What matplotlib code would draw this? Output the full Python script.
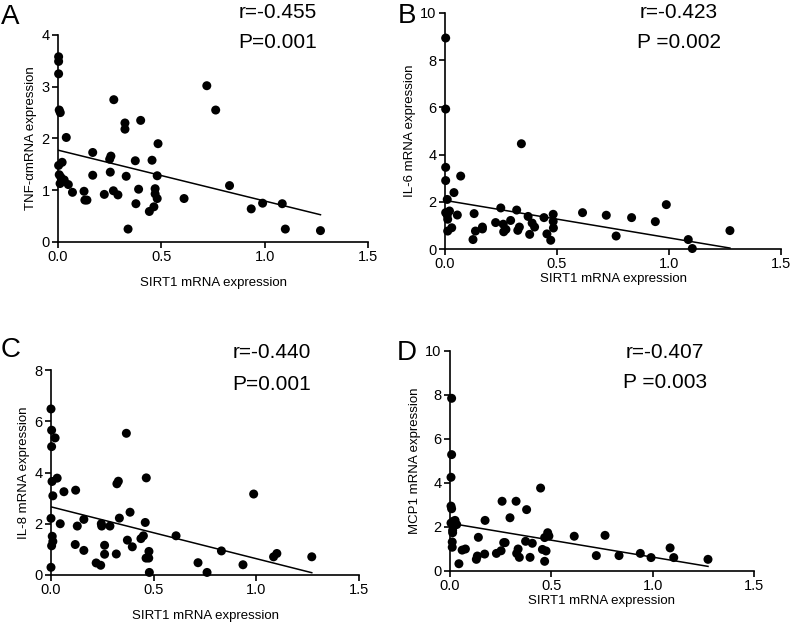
import numpy as np
import matplotlib
matplotlib.use("Agg")
import matplotlib.pyplot as plt

plt.rcParams['font.family'] = ['Liberation Sans', 'DejaVu Sans']

# panel A: TNF-a vs SIRT1
sirt1_a = [0.003, 0.003, 0.003, 0.006, 0.011, 0.04, 0.003, 0.02, 0.006, 0.014, 0.01,
           0.03, 0.05, 0.07, 0.126, 0.13, 0.14, 0.168, 0.168, 0.224, 0.25, 0.256,
           0.253, 0.27, 0.268, 0.29, 0.324, 0.324, 0.33, 0.339, 0.374, 0.377, 0.39,
           0.40, 0.442, 0.455, 0.464, 0.47, 0.47, 0.48, 0.48, 0.484, 0.61, 0.72,
           0.763, 0.83, 0.935, 0.99, 1.085, 1.10, 1.27]
tnf_a = [3.58, 3.49, 3.25, 2.55, 2.50, 2.02, 1.48, 1.54, 1.30, 1.25, 1.13,
         1.20, 1.11, 0.96, 0.98, 0.81, 0.81, 1.73, 1.29, 0.92, 1.60, 1.66,
         1.35, 2.75, 0.99, 0.91, 2.30, 2.18, 1.27, 0.25, 1.57, 0.74, 1.02,
         2.35, 0.59, 1.58, 0.68, 1.03, 0.93, 0.84, 1.28, 1.90, 0.84, 3.02,
         2.55, 1.09, 0.64, 0.75, 0.74, 0.25, 0.22]

# panel B: IL-6 vs SIRT1
sirt1_b = [0.003, 0.003, 0.003, 0.003, 0.01, 0.003, 0.01, 0.02, 0.012, 0.012, 0.03,
           0.04, 0.055, 0.07, 0.13, 0.125, 0.136, 0.167, 0.167, 0.226, 0.249, 0.26,
           0.262, 0.272, 0.293, 0.32, 0.325, 0.332, 0.341, 0.371, 0.378, 0.389,
           0.40, 0.442, 0.455, 0.472, 0.483, 0.483, 0.484, 0.614, 0.72, 0.764,
           0.833, 0.939, 0.988, 1.086, 1.104, 1.272]
il6_b = [8.94, 5.93, 3.46, 2.90, 2.10, 1.54, 1.43, 1.61, 1.26, 0.76, 0.90,
         2.39, 1.44, 3.09, 1.50, 0.40, 0.76, 0.93, 0.85, 1.12, 1.74, 1.05,
         0.73, 0.83, 1.21, 1.65, 0.79, 0.93, 4.46, 1.38, 0.62, 1.10,
         0.93, 1.33, 0.64, 0.37, 1.47, 1.17, 0.89, 1.54, 1.43, 0.55,
         1.33, 1.16, 1.88, 0.40, 0.02, 0.78]

# panel C: IL-8 vs SIRT1
sirt1_c = [0.0, 0.003, 0.003, 0.02, 0.005, 0.03, 0.009, 0.0, 0.006, 0.009, 0.003,
           0.0, 0.045, 0.063, 0.12, 0.128, 0.118, 0.16, 0.16, 0.22, 0.242, 0.245,
           0.247, 0.261, 0.261, 0.287, 0.318, 0.321, 0.328, 0.333, 0.367, 0.372,
           0.385, 0.396, 0.438, 0.45, 0.459, 0.464, 0.463, 0.476, 0.477, 0.479,
           0.609, 0.716, 0.76, 0.83, 0.935, 0.987, 1.084, 1.10, 1.27]
il8_c = [6.48, 5.65, 5.01, 5.35, 3.65, 3.78, 3.09, 2.21, 1.51, 1.31, 1.14,
         0.30, 2.00, 3.25, 3.31, 1.91, 1.19, 2.17, 0.96, 0.47, 0.38, 2.00,
         1.91, 1.16, 0.81, 1.91, 0.82, 3.56, 3.66, 2.22, 5.53, 1.36,
         2.45, 1.10, 1.42, 1.53, 2.05, 3.79, 0.66, 0.66, 0.92, 0.10,
         1.53, 0.48, 0.10, 0.94, 0.40, 3.16, 0.71, 0.84, 0.71]

# panel D: MCP1 vs SIRT1
sirt1_d = [0.008, 0.008, 0.005, 0.005, 0.008, 0.005, 0.016, 0.025, 0.033, 0.013, 0.013,
           0.011, 0.011, 0.044, 0.06, 0.076, 0.13, 0.135, 0.14, 0.171, 0.173, 0.229,
           0.252, 0.257, 0.265, 0.272, 0.296, 0.326, 0.329, 0.336, 0.342, 0.378,
           0.373, 0.395, 0.406, 0.447, 0.456, 0.467, 0.474, 0.467, 0.482, 0.488,
           0.613, 0.722, 0.765, 0.834, 0.939, 0.992, 1.086, 1.104, 1.273]
mcp1_d = [7.85, 5.29, 4.26, 2.95, 2.83, 2.18, 2.26, 2.30, 2.11, 1.85, 1.74,
          1.32, 1.08, 0.33, 0.95, 1.00, 0.53, 0.68, 1.53, 0.77, 2.30, 0.80,
          0.92, 3.17, 1.29, 1.29, 2.42, 3.17, 0.80, 1.00, 0.62, 2.79,
          1.35, 0.62, 1.26, 3.77, 0.98, 0.44, 0.91, 1.52, 1.74, 1.59,
          1.58, 0.70, 1.62, 0.70, 0.80, 0.61, 1.05, 0.61, 0.53]

# regression lines: (value at x=0, value at x end, x end)
fit_a = (1.775, 0.527, 1.27)
fit_b = (2.06, 0.04, 1.272)
fit_c = (2.66, 0.09, 1.27)
fit_d = (2.17, 0.21, 1.273)

ylabels = ["TNF-αmRNA expression", "IL-6 mRNA expression",
           "IL-8 mRNA expression", "MCP1 mRNA expression"]
r_texts = ["r=-0.455", "r=-0.423", "r=-0.440", "r=-0.407"]
p_texts = ["P=0.001", "P =0.002", "P=0.001", "P =0.003"]
letters = ["A", "B", "C", "D"]

W, H = 793, 629
fig = plt.figure(figsize=(W / 100, H / 100), dpi=100)


def px_axes(l, t, r, b):
    return fig.add_axes([l / W, 1 - b / H, (r - l) / W, (b - t) / H])


def panel(ax, x, y, fit, ymax, ystep, ylabel):
    ax.scatter(x, y, s=42, color="black", edgecolors="none", clip_on=False, zorder=3)
    ax.plot([0, fit[2]], [fit[0], fit[1]], color="black", lw=1.1, zorder=2)
    ax.set_xlim(0, 1.5)
    ax.set_ylim(0, ymax)
    ax.set_xticks([0, 0.5, 1.0, 1.5])
    ax.set_xticklabels(["0.0", "0.5", "1.0", "1.5"])
    ax.set_yticks(np.arange(0, ymax + 0.01, ystep))
    for s in ["top", "right"]:
        ax.spines[s].set_visible(False)
    for s in ["left", "bottom"]:
        ax.spines[s].set_linewidth(1.2)
    ax.tick_params(direction="out", length=4, width=1.2, labelsize=10.5, pad=2)
    ax.set_ylabel(ylabel, fontsize=9.5, labelpad=3)
    ax.set_xlabel("SIRT1 mRNA expression", fontsize=9.5, labelpad=9)


axA = px_axes(58, 35, 368, 242)
axB = px_axes(445, 13, 781, 249)
axC = px_axes(51, 370, 359, 575)
axD = px_axes(450, 351, 754, 571)

panel(axA, sirt1_a, tnf_a, fit_a, 4, 1, ylabels[0])
panel(axB, sirt1_b, il6_b, fit_b, 10, 2, ylabels[1])
panel(axC, sirt1_c, il8_c, fit_c, 8, 2, ylabels[2])
panel(axD, sirt1_d, mcp1_d, fit_d, 10, 2, ylabels[3])
axB.xaxis.labelpad = 1
axD.xaxis.labelpad = 1


def ftext(x, y, s, size, ha="center"):
    fig.text(x / W, 1 - y / H, s, fontsize=size, ha=ha, va="center")


letter_pos = [(1, 17), (398, 16), (1, 350), (397, 353)]
stat_pos = [(278, 13, 42), (679, 12, 43), (272, 353, 385), (665, 352, 383)]
for i in range(4):
    ftext(letter_pos[i][0], letter_pos[i][1], letters[i], 20, ha="left")
    ftext(stat_pos[i][0], stat_pos[i][1], r_texts[i], 15)
    ftext(stat_pos[i][0], stat_pos[i][2], p_texts[i], 15)

fig.savefig("out.png", dpi=100)
